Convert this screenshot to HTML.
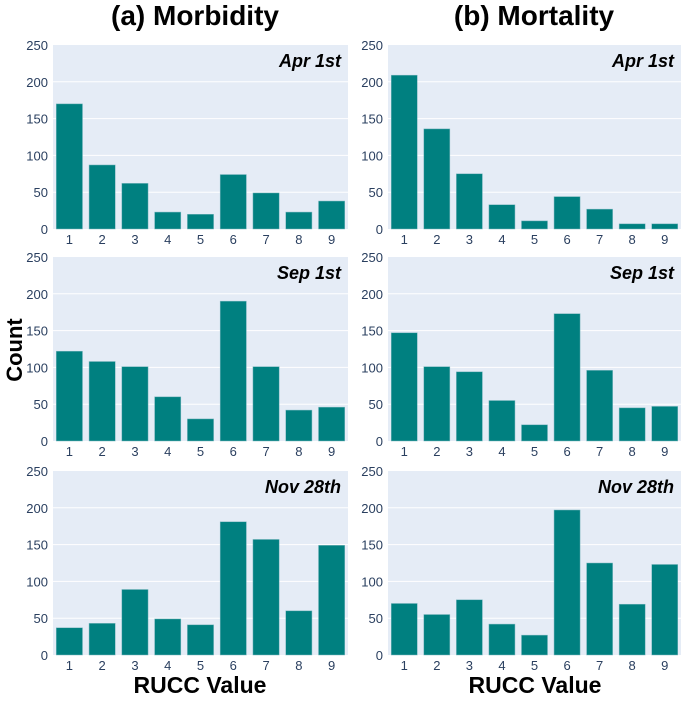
<!DOCTYPE html>
<html><head><meta charset="utf-8"><style>
body{margin:0;background:#fff;width:684px;height:699px;overflow:hidden;font-family:"Liberation Sans",sans-serif}
</style></head><body>
<svg id="c" width="684" height="699" xmlns="http://www.w3.org/2000/svg">
<text x="195" y="25" text-anchor="middle" font-size="28" font-weight="bold">(a) Morbidity</text>
<text x="534" y="25" text-anchor="middle" font-size="28" font-weight="bold">(b) Mortality</text>
<text transform="translate(22,350) rotate(-90)" text-anchor="middle" font-size="22" font-weight="bold">Count</text>
<text x="200" y="693" text-anchor="middle" font-size="23" font-weight="bold">RUCC Value</text>
<text x="535" y="693" text-anchor="middle" font-size="23" font-weight="bold">RUCC Value</text>
</svg>
<script>
const categories=[1,2,3,4,5,6,7,8,9];
const yTicks=[0,50,100,150,200,250];
const panelLabels=["Apr 1st","Sep 1st","Nov 28th"];
const morbApr=[170,87,62,23,20,74,49,23,38];
const mortApr=[209,136,75,33,11,44,27,7,7];
const morbSep=[122,108,101,60,30,190,101,42,46];
const mortSep=[147,101,94,55,22,173,96,45,47];
const morbNov=[37,43,89,49,41,181,157,60,149];
const mortNov=[70,55,75,42,27,197,125,69,123];
const series=[[morbApr,mortApr],[morbSep,mortSep],[morbNov,mortNov]];
const svg=document.getElementById('c');
const NS='http://www.w3.org/2000/svg';
const colX=[53,388],colW=[295,293],rowY=[45,257,471],H=184,YMAX=250;
function mk(t,a){const e=document.createElementNS(NS,t);for(const k in a)e.setAttribute(k,a[k]);svg.appendChild(e);return e;}
for(let r=0;r<3;r++)for(let c=0;c<2;c++){
 const x0=colX[c],w=colW[c],y0=rowY[r];
 const ys=v=>y0+H-v/YMAX*H;
 const bw=w/categories.length;
 const xs=i=>x0+bw*(i+0.5);
 const bg=mk('rect',{x:x0,y:y0,width:w,height:H,fill:'#e5ecf6'});
 
 
 yTicks.forEach(t=>{
  if(t>0&&t<YMAX){const g=mk('line',{x1:x0,x2:x0+w,y1:ys(t),y2:ys(t),stroke:'#fff','stroke-width':1});
  
  }
  const l=mk('text',{x:x0-5,y:ys(t)+5,'text-anchor':'end','font-size':13,fill:'#2a3f5f'});l.textContent=t;
  
  
 });
 series[r][c].forEach((v,i)=>{
  const b=mk('rect',{x:xs(i)-bw*0.4,y:ys(v),width:bw*0.8,height:v/YMAX*H,fill:'#008080',stroke:'#7fb8c0','stroke-width':0.5});
  
  
  const l=mk('text',{x:xs(i),y:y0+H+15,'text-anchor':'middle','font-size':13,fill:'#2a3f5f'});l.textContent=categories[i];
  
  
 });
 const pl=mk('text',{x:x0+w-7,y:y0+22,'text-anchor':'end','font-size':18,'font-weight':'bold','font-style':'italic'});
 pl.textContent=panelLabels[r];
 
 
}
</script>
</body></html>
